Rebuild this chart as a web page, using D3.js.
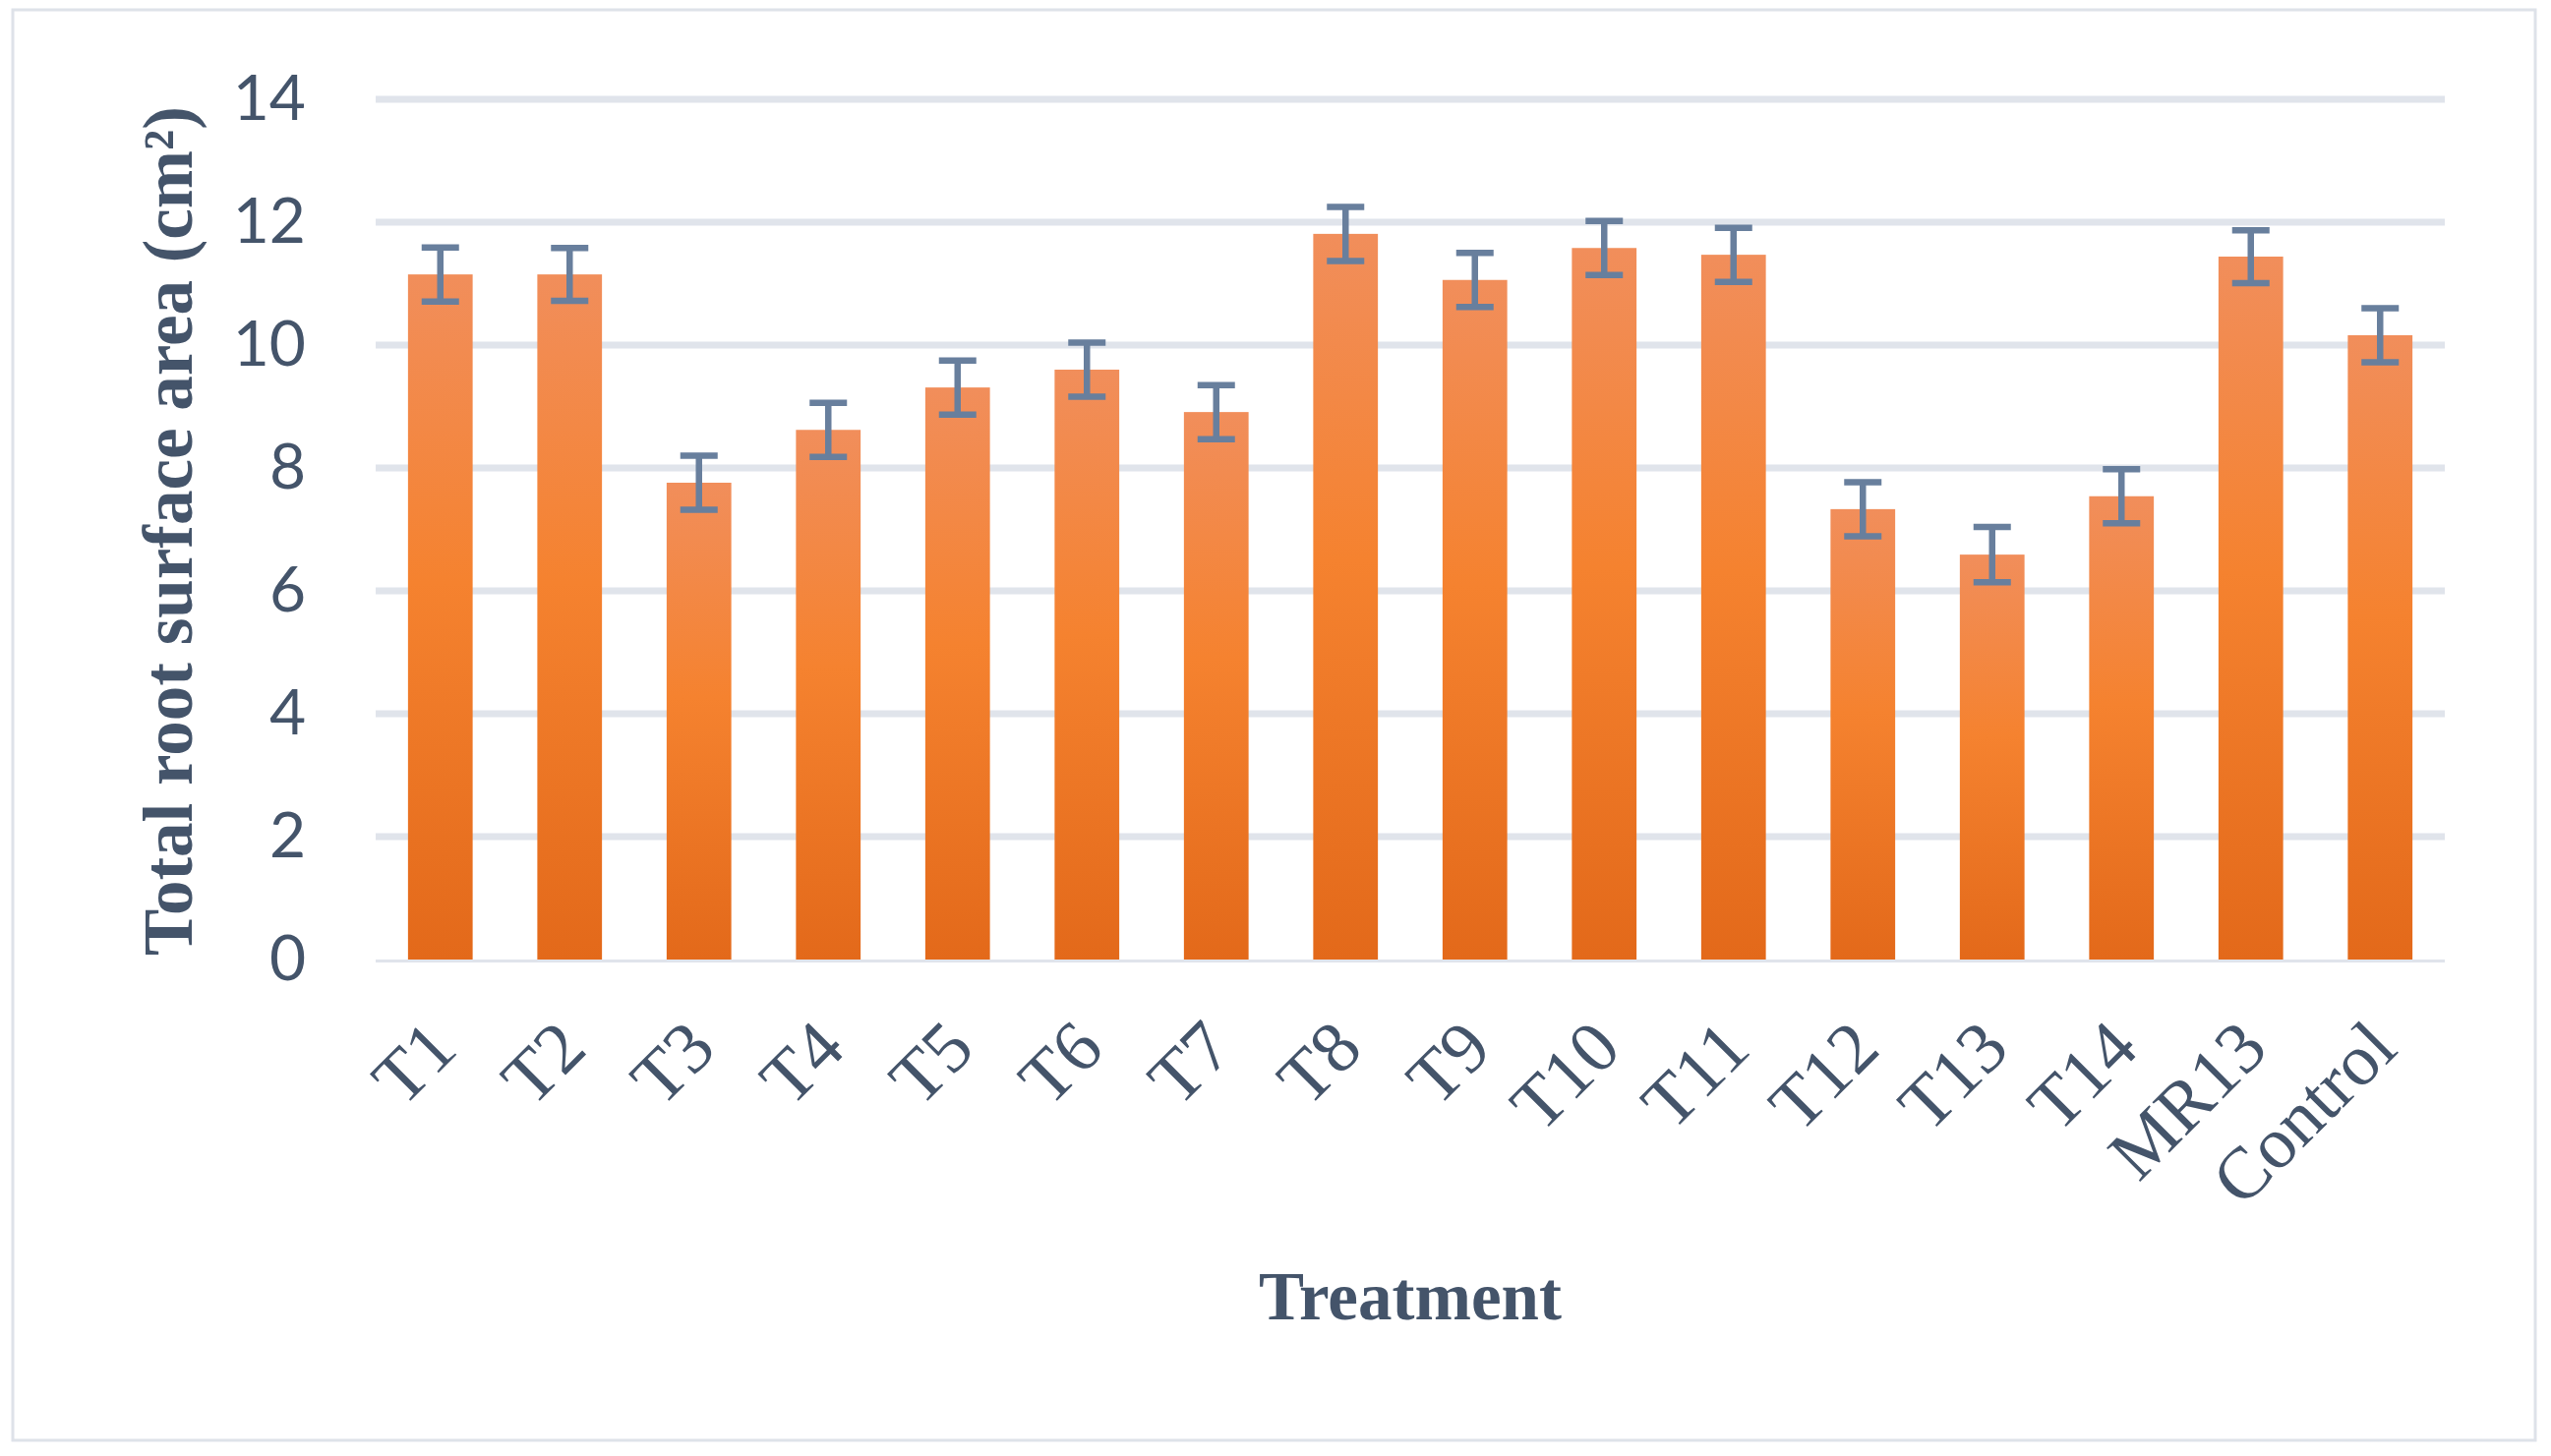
<!DOCTYPE html>
<html>
<head>
<meta charset="utf-8">
<script src="https://cdnjs.cloudflare.com/ajax/libs/d3/7.8.5/d3.min.js"></script>
<style>
  body { margin: 0; background: #fff; }
</style>
</head>
<body>
<div id="chart"></div>
<script>
  // data
  var categories = ['T1', 'T2', 'T3', 'T4', 'T5', 'T6', 'T7', 'T8', 'T9', 'T10', 'T11', 'T12', 'T13', 'T14', 'MR13', 'Control'];
  var values = [11.15, 11.15, 7.76, 8.62, 9.31, 9.60, 8.91, 11.81, 11.06, 11.58, 11.47, 7.33, 6.59, 7.54, 11.44, 10.16];
  var errors = [0.44, 0.43, 0.44, 0.44, 0.44, 0.44, 0.44, 0.44, 0.44, 0.44, 0.44, 0.44, 0.45, 0.44, 0.43, 0.44];
  var yTicks = [0, 2, 4, 6, 8, 10, 12, 14];

  var W = 2594, H = 1481;
  var margin = {top: 101, left: 382, right: 108, bottom: 505};
  var width = W - margin.left - margin.right;
  var height = H - margin.top - margin.bottom;
  var textColor = '#44546a';

  var svg = d3.select('#chart').append('svg')
    .attr('width', W)
    .attr('height', H);

  // gradient like the office bar fill
  var grad = svg.append('defs').append('linearGradient')
    .attr('id', 'barFill')
    .attr('x1', 0).attr('y1', 0).attr('x2', 0).attr('y2', 1);
  grad.append('stop').attr('offset', '0%').attr('stop-color', '#f18e5b');
  grad.append('stop').attr('offset', '45%').attr('stop-color', '#f5822f');
  grad.append('stop').attr('offset', '100%').attr('stop-color', '#e3691a');

  //outer frame
  svg.append('rect')
    .attr('x', 13).attr('y', 10)
    .attr('width', 2565).attr('height', 1455)
    .attr('fill', '#fff')
    .attr('stroke', '#dee2e9')
    .attr('stroke-width', 3);

  var x = d3.scaleBand().domain(categories).range([0, width])
    .paddingInner(0.5).paddingOuter(0.25);
  var y = d3.scaleLinear().domain([0, 14]).range([height, 0]);

  var g = svg.append('g').attr('transform', 'translate(' + margin.left + ',' + margin.top + ')');

  // grid lines
  g.selectAll('.grid').data(yTicks).enter().append('line')
    .attr('class', 'grid')
    .attr('x1', 0).attr('x2', width)
    .attr('y1', function(d) { return d === 0 ? y(d) + 1.5 : y(d); })
    .attr('y2', function(d) { return d === 0 ? y(d) + 1.5 : y(d); })
    .attr('stroke', '#e0e4eb')
    .attr('stroke-width', function(d) { return d === 0 ? 3 : 7; });

  // bars
  g.selectAll('.bar').data(values).enter().append('rect')
    .attr('class', 'bar')
    .attr('x', function(d, i) { return x(categories[i]); })
    .attr('width', x.bandwidth())
    .attr('y', function(d) { return y(d); })
    .attr('height', function(d) { return height - y(d); })
    .attr('fill', 'url(#barFill)');

  // error bars
  var capW = 19;
  g.selectAll('.err').data(values).enter().append('path')
    .attr('class', 'err')
    .attr('d', function(d, i) {
      var cx = x(categories[i]) + x.bandwidth() / 2;
      var top = y(d + errors[i]), bot = y(d - errors[i]);
      return 'M' + cx + ',' + top + 'V' + bot +
        'M' + (cx - capW) + ',' + top + 'H' + (cx + capW) +
        'M' + (cx - capW) + ',' + bot + 'H' + (cx + capW);
    })
    .attr('fill', 'none')
    .attr('stroke', '#687f9d')
    .attr('stroke-width', 6.5);

  // y axis labels
  var yAxis = d3.axisLeft(y).tickValues(yTicks).tickSize(0).tickPadding(71);
  var yG = g.append('g').call(yAxis);
  yG.select('.domain').remove();
  yG.selectAll('text')
    .attr('font-family', 'Lato, sans-serif')
    .attr('font-size', 64)
    .attr('fill', textColor);

  // x axis labels, rotated
  var xAxis = d3.axisBottom(x).tickSize(0).tickPadding(0);
  var xG = g.append('g').attr('transform', 'translate(0,' + height + ')').call(xAxis);
  xG.select('.domain').remove();
  xG.selectAll('text')
    .attr('font-family', '"Liberation Serif", serif')
    .attr('font-size', 74)
    .attr('fill', textColor)
    .attr('text-anchor', 'end')
    .attr('dy', null)
    .attr('y', null)
    .attr('dominant-baseline', 'central')
    .attr('transform', 'translate(2,76) rotate(-45)');

  // axis titles
  svg.append('text')
    .attr('transform', 'translate(195,540) rotate(-90)')
    .attr('text-anchor', 'middle')
    .attr('font-family', '"Liberation Serif", serif')
    .attr('font-weight', 'bold')
    .attr('font-size', 71)
    .attr('fill', textColor)
    .text('Total root surface area (cm²)');

  svg.append('text')
    .attr('x', margin.left + width / 2)
    .attr('y', 1342)
    .attr('text-anchor', 'middle')
    .attr('font-family', '"Liberation Serif", serif')
    .attr('font-weight', 'bold')
    .attr('font-size', 69)
    .attr('fill', textColor)
    .text('Treatment');
</script>
</body>
</html>
